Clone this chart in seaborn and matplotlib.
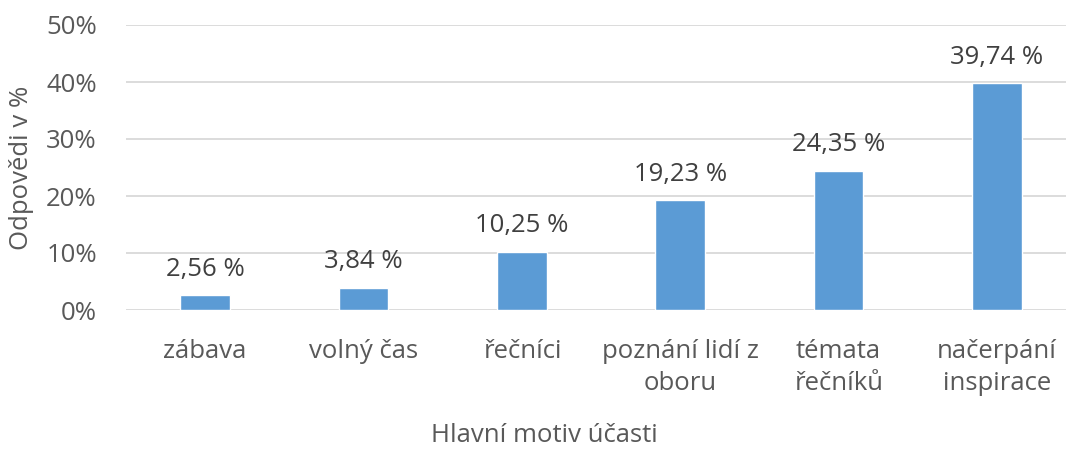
import matplotlib
matplotlib.use("Agg")
import matplotlib.pyplot as plt
import seaborn as sns
import pandas as pd

# data
categories = ["zábava", "volný čas", "řečníci", "poznání lidí z\noboru", "témata\nřečníků", "načerpání\ninspirace"]
values = [2.56, 3.84, 10.25, 19.23, 24.35, 39.74]
labels = ["2,56 %", "3,84 %", "10,25 %", "19,23 %", "24,35 %", "39,74 %"]
yticks = [0, 10, 20, 30, 40, 50]
ytick_labels = ["0%", "10%", "20%", "30%", "40%", "50%"]

df = pd.DataFrame({"motiv": categories, "podil": values})

sns.set_style("white")
plt.rcParams["font.family"] = ["Open Sans", "DejaVu Sans"]

fig = plt.figure(figsize=(10.66, 4.5), dpi=100)
ax = fig.add_axes([126 / 1066, 1 - 310 / 450, 950 / 1066, 285 / 450])

sns.barplot(data=df, x="motiv", y="podil", color="#5b9bd5", width=0.315,
            saturation=1, ax=ax, zorder=3)

# labels above bars
for i, (v, t) in enumerate(zip(values, labels)):
    ax.annotate(t, (i, v), xytext=(0, 10), textcoords="offset points",
                ha="center", va="bottom", fontsize=18.5, color="#404040")

ax.set_ylim(0, 50)
ax.set_yticks(yticks)
ax.set_yticklabels(ytick_labels)
ax.yaxis.grid(True, color="#d9d9d9", linewidth=1.3, zorder=0)
ax.set_axisbelow(True)
for s in ax.spines.values():
    s.set_visible(False)
ax.tick_params(axis="both", length=0, labelsize=18.5, labelcolor="#595959")
ax.tick_params(axis="y", pad=21)
ax.tick_params(axis="x", pad=21)
for t in ax.get_xticklabels():
    t.set_linespacing(1.35)

ax.set_xlabel("Hlavní motiv účasti", fontsize=18.5, color="#595959")
ax.set_ylabel("Odpovědi v %", fontsize=18.5, color="#595959")
ax.xaxis.set_label_coords(0.44, -0.398)
ax.yaxis.set_label_coords(-0.097, 0.5)

fig.savefig("out.png", dpi=100)
